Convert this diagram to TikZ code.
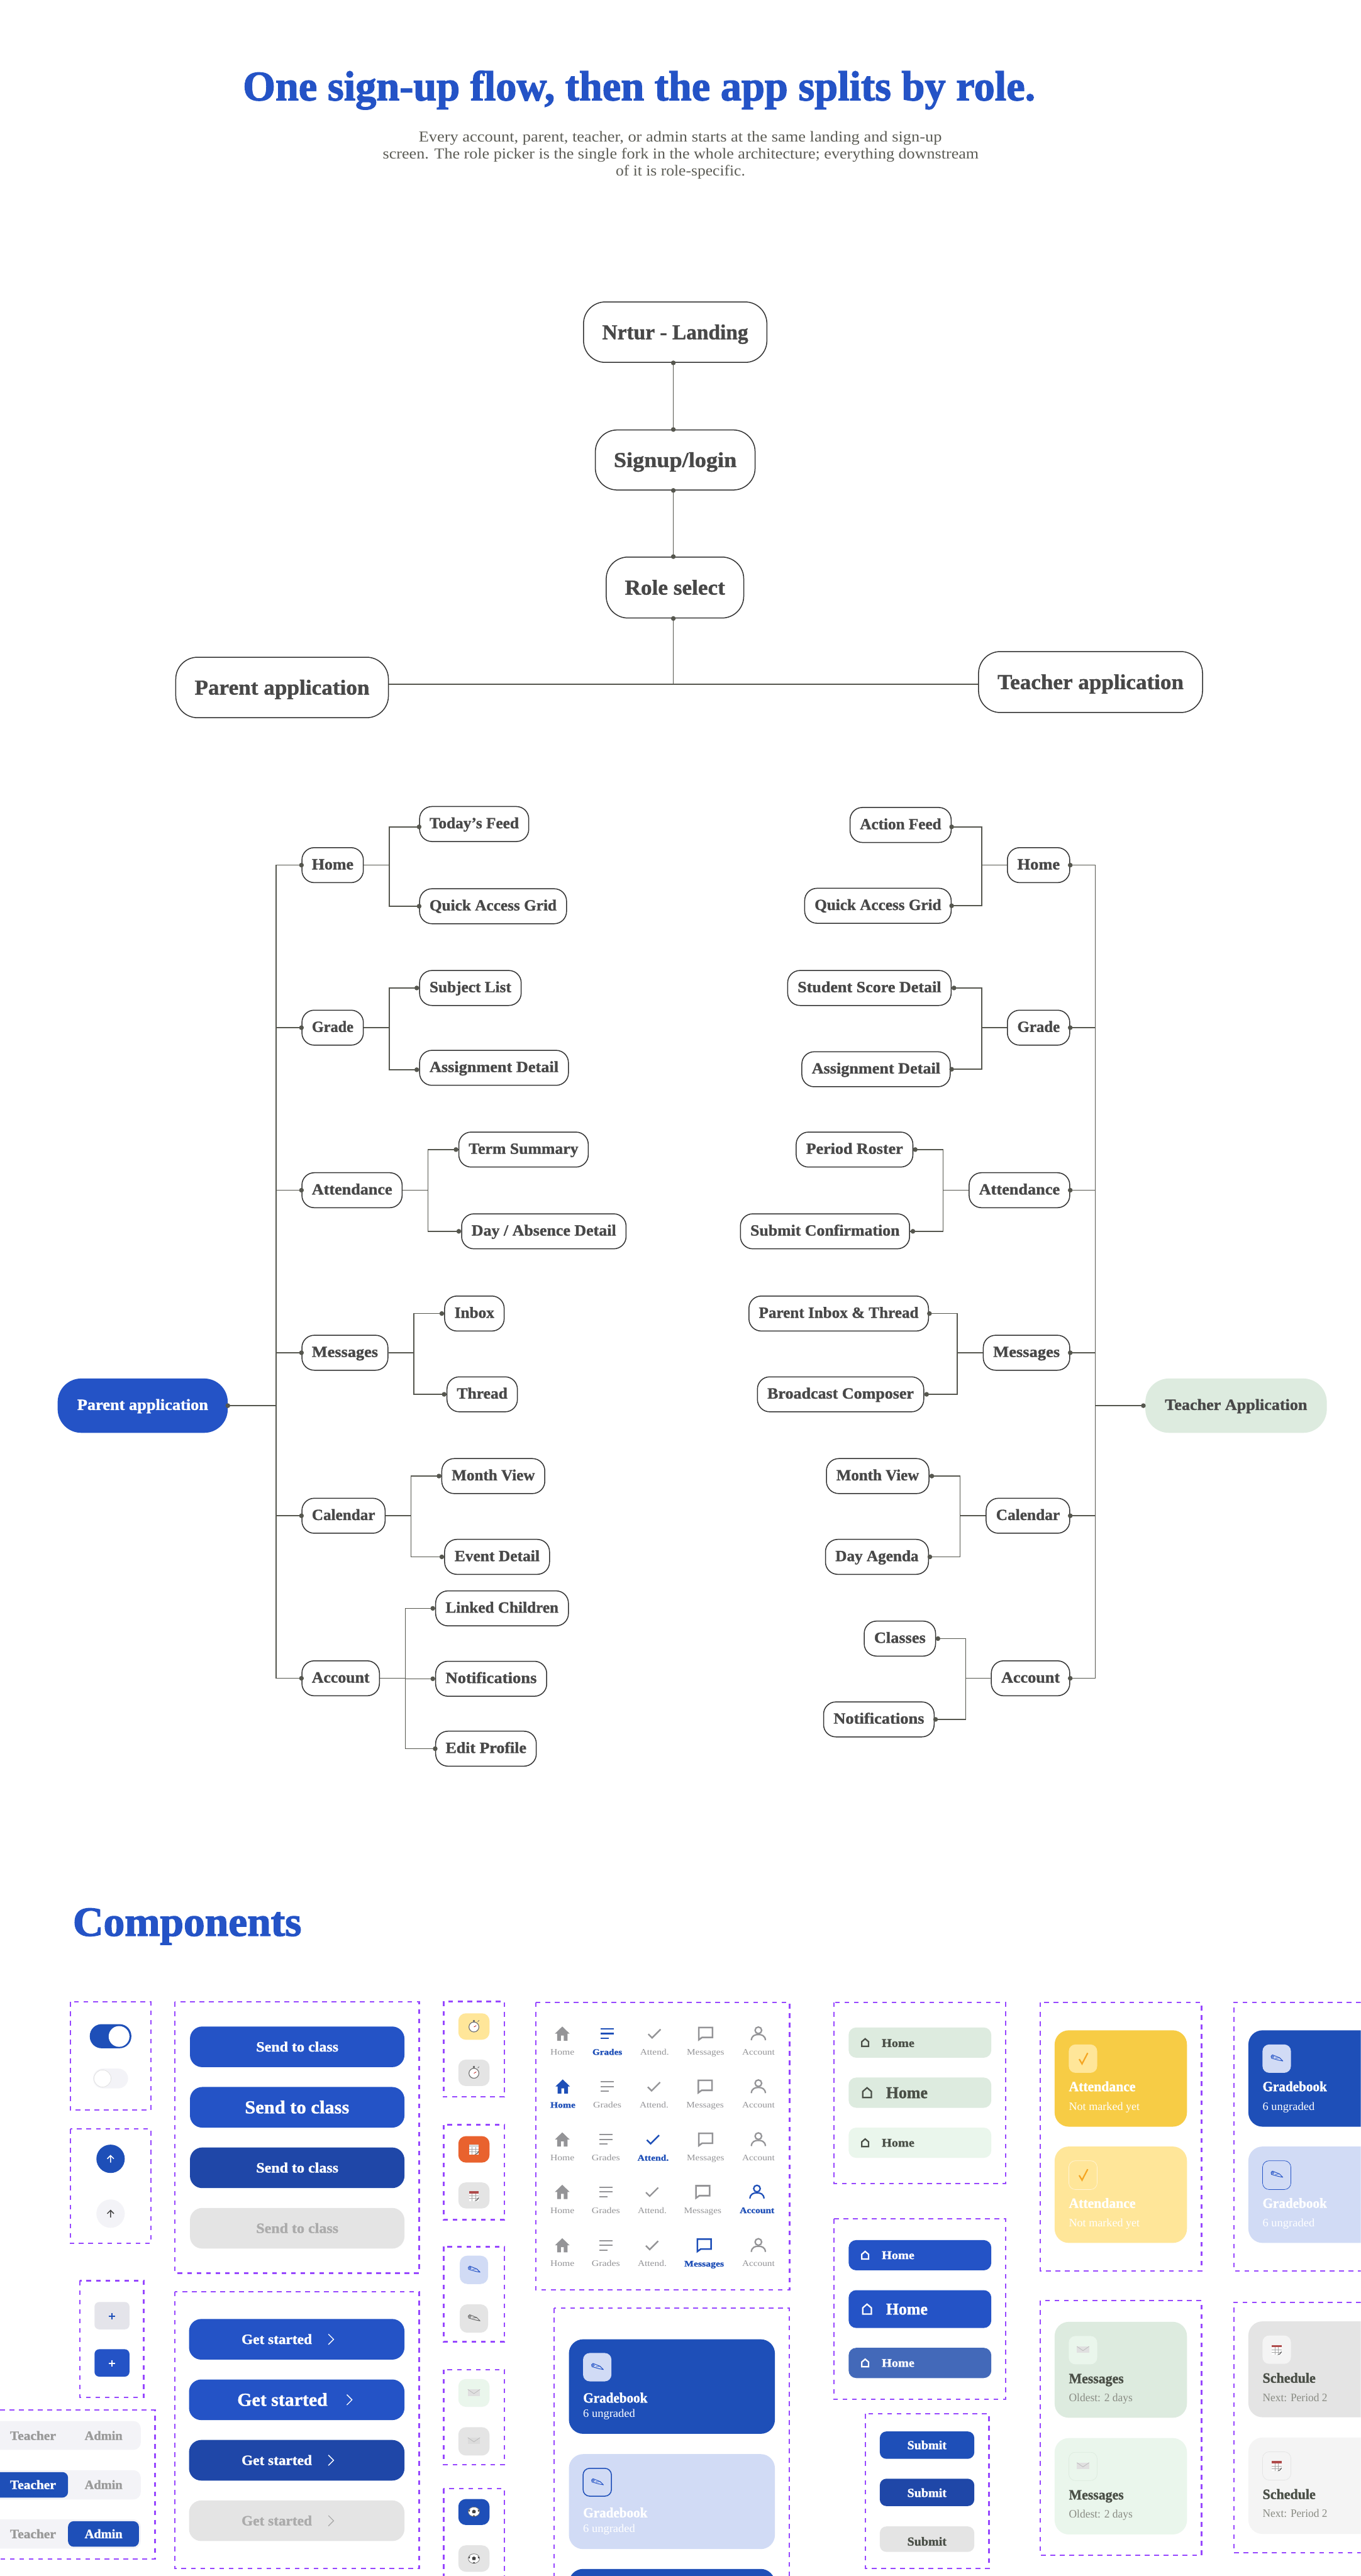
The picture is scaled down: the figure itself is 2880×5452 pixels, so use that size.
\documentclass[tikz,border=0pt]{standalone}
\usepackage{fontspec}
\usepackage{graphicx}
\setmainfont{Liberation Serif}
\newfontfamily\hv[FakeBold=1.2]{Liberation Serif Bold}
\newfontfamily\hvv[FakeBold=2]{Liberation Serif Bold}
\newfontfamily\rg{Liberation Serif}
\definecolor{blueA}{HTML}{2453C6}
\definecolor{blueB}{HTML}{1E4FB8}
\definecolor{blueC}{HTML}{1F47A8}
\definecolor{blueD}{HTML}{4369B9}
\definecolor{blueL}{HTML}{D1DBF5}
\definecolor{ink}{HTML}{484848}
\definecolor{line}{HTML}{333333}
\definecolor{sub}{HTML}{5C5C55}
\definecolor{wirec}{HTML}{55564E}
\definecolor{greenL}{HTML}{DDEBDF}
\definecolor{greenXL}{HTML}{EAF6EC}
\definecolor{dash}{HTML}{9747FF}
\definecolor{dis}{HTML}{E4E4E4}
\definecolor{distx}{HTML}{ABABAB}
\definecolor{seg}{HTML}{F3F3F7}
\definecolor{segm}{HTML}{E4E4EA}
\definecolor{navg}{HTML}{949497}
\definecolor{yelA}{HTML}{F7CC45}
\definecolor{yelL}{HTML}{FFE699}
\definecolor{orangeA}{HTML}{E9622E}
\definecolor{chk}{HTML}{F5A623}
\definecolor{olive}{HTML}{4A4F47}
\definecolor{olivesub}{HTML}{8A8C84}
\definecolor{greyL}{HTML}{F4F4F4}
\definecolor{seggrey}{HTML}{999999}
\newcounter{tc}
\tikzset{
  x=1pt,y=-1pt,
  wire/.style={draw=wirec,line width=2pt},
  dotc/.style={fill=wirec},
  flowbox/.style={draw=line,line width=2pt,fill=white,rounded corners=46pt,inner sep=0pt,text=ink,text height=34pt,text depth=4pt},
  leafbox/.style={draw=line,line width=2pt,fill=white,rounded corners=26pt,inner sep=0pt,text=ink,minimum height=74pt,text height=22pt,text depth=4pt},
  pill/.style={rounded corners=50pt,inner sep=0pt,minimum height=115pt,text height=22pt,text depth=4pt},
  dbox/.style={draw=dash,line width=3pt,dash pattern=on 10pt off 10pt},
  plain/.style={inner sep=0pt}
}
% text: left x, centre y, width, size, colour, font, text
\newcommand{\T}[7]{\pgfmathsetmacro{\ty}{#2+0.33*#4}\stepcounter{tc}\node[plain,anchor=base west,text=#5,font={#6\fontsize{#4pt}{#4pt}\selectfont}] (t\thetc) at (#1,\ty) {\resizebox{#3 pt}{\height}{#7}};}
% big flow box: name x1 y1 x2 y2 textwidth text
\newcommand{\FB}[7]{\pgfmathsetmacro{\cx}{(#2+#4)/2}\pgfmathsetmacro{\cy}{(#3+#5)/2}\pgfmathsetmacro{\bw}{#4-#2}\pgfmathsetmacro{\bh}{#5-#3}%
\node[flowbox,minimum width=\bw pt,minimum height=\bh pt,font={\hv\fontsize{45pt}{45pt}\selectfont}] (#1) at (\cx,\cy) {\resizebox{#6 pt}{\height}{#7}};}
% leaf: name x1 x2 yc text
\newcommand{\LF}[5]{\pgfmathsetmacro{\cx}{(#2+#3)/2}\pgfmathsetmacro{\bw}{#3-#2}\pgfmathsetmacro{\tw}{#3-#2-42}%
\node[leafbox,minimum width=\bw pt,font={\hv\fontsize{33pt}{33pt}\selectfont}] (#1) at (\cx,#4) {\resizebox{\tw pt}{\height}{#5}};}
\newcommand{\wdot}[1]{\fill[dotc] (#1) circle (5pt);}
\newcommand{\Rr}[6]{\fill[#1,rounded corners=#6pt] (#2,#3) rectangle (#4,#5);}
\newcommand{\DB}[4]{\draw[dbox] (#1,#2) rectangle (#3,#4);}
% icons
\newcommand{\IcWatch}[3]{\begin{scope}[shift={(#1,#2)}]\fill[#3] (-2,-15) rectangle (2,-10);\draw[#3,line width=1.2pt] (8,-11) -- (11,-14);\filldraw[draw=#3,fill=white,line width=1.6pt] (0,0) circle (10.5pt);\draw[red!70!black,line width=1pt] (0,0) -- (5,-3);\end{scope}}
\newcommand{\IcCal}[3]{\begin{scope}[shift={(#1,#2)}]\fill[white] (-10,-10) rectangle (10,11);\fill[#3] (-10,-10) rectangle (10,-5);\draw[black!35,line width=.6pt] (-10,0) -- (10,0) (-10,5) -- (10,5) (-4,-5) -- (-4,11) (3,-5) -- (3,11);\fill[black!65] (1,11) .. controls (6,9) and (9,6) .. (10,3) -- (10,6) .. controls (9,9) and (6,11) .. (1,11) -- cycle;\end{scope}}
\newcommand{\IcPen}[3]{\begin{scope}[shift={(#1,#2)}]\draw[#3,line width=1.3pt,line join=round] (-12,-5) -- (-9,-8) -- (6,-2) -- (13,5) -- (3,3) -- (-11,-1) -- cycle;\draw[#3,line width=1pt] (-8,-4) circle (2pt) (-3,-1) -- (6,-2);\end{scope}}
\newcommand{\IcMail}[3]{\begin{scope}[shift={(#1,#2)}]\fill[#3] (-13,-7) rectangle (13,7);\draw[black!30,line width=.8pt] (-13,-7) -- (0,2) -- (13,-7);\end{scope}}
\newcommand{\IcBall}[3]{\begin{scope}[shift={(#1,#2)}]\filldraw[draw=black!55,fill=white,line width=1pt] (0,0) ellipse (12pt and 10pt);\fill[#3] (-4,-2) -- (0,-4.5) -- (4,-2) -- (3,3) -- (-3,3) -- cycle;\fill[#3] (-12,-2) -- (-8,-5) -- (-9,0) -- cycle (12,-2) -- (8,-5) -- (9,0) -- cycle (-3,10) -- (0,7) -- (3,10) -- cycle;\end{scope}}
\newcommand{\IcHomeO}[4]{\begin{scope}[shift={(#1,#2)},scale=#4]\draw[#3,line width=3pt,line join=miter] (-7,8) -- (-7,-2) -- (0,-8) -- (7,-2) -- (7,8) -- cycle;\end{scope}}
\newcommand{\NHome}[3]{\begin{scope}[shift={(#1,#2)}]\fill[#3] (0,-15) -- (15.5,0) -- (11,0) -- (11,15) -- (3,15) -- (3,4) -- (-3,4) -- (-3,15) -- (-11,15) -- (-11,0) -- (-15.5,0) -- cycle;\end{scope}}
\newcommand{\NLines}[3]{\begin{scope}[shift={(#1,#2)}]\draw[#3,line width=3pt] (-14,-10) -- (14,-10) (-14,0) -- (14,0) (-14,10) -- (4,10);\end{scope}}
\newcommand{\NCheck}[3]{\begin{scope}[shift={(#1,#2)}]\draw[#3,line width=3.2pt] (-13,1) -- (-5,9) -- (13,-9);\end{scope}}
\newcommand{\NBub}[3]{\begin{scope}[shift={(#1,#2)}]\draw[#3,line width=3.4pt,line join=miter] (-14,13) -- (-14,-13) -- (15,-13) -- (15,8) -- (-7,8) -- cycle;\end{scope}}
\newcommand{\NPer}[3]{\begin{scope}[shift={(#1,#2)}]\draw[#3,line width=3pt] (0,-7) circle (7pt);\draw[#3,line width=3pt] (-15,14) .. controls (-14,4) and (-7,2) .. (0,2) .. controls (7,2) and (14,4) .. (15,14);\end{scope}}
% #1 active #2 icon #3 x #4 y #5 label #6 w regular #7 w bold
\newcommand{\NC}[7]{\ifnum#1=1 \def\cc{blueB}\def\ff{\hv}\def\ww{#7}\else\def\cc{navg}\def\ff{\rg}\def\ww{#6}\fi
#2{#3}{#4}{\cc}\pgfmathsetmacro{\lx}{#3-\ww/2}\T{\lx}{#4+39}{\ww}{18}{\cc}{\ff}{#5}}
% row: y hx gx ax mx px active
\newcommand{\NR}[7]{%
\NC{\ifnum#7=1 1\else 0\fi}{\NHome}{#2}{#1}{Home}{51}{53}%
\NC{\ifnum#7=2 1\else 0\fi}{\NLines}{#3}{#1}{Grades}{60}{63}%
\NC{\ifnum#7=3 1\else 0\fi}{\NCheck}{#4}{#1}{Attend.}{61}{66}%
\NC{\ifnum#7=4 1\else 0\fi}{\NBub}{#5}{#1}{Messages}{79}{84}%
\NC{\ifnum#7=5 1\else 0\fi}{\NPer}{#6}{#1}{Account}{69}{73}}
\begin{document}
\begin{tikzpicture}
\useasboundingbox (0,0) rectangle (2880,5452);
\clip (0,0) rectangle (2880,5452);
\fill[white] (0,0) rectangle (2880,5452);
% heading
\T{514}{183}{1677}{89}{blueA}{\hvv}{One sign-up flow, then the app splits by role.}
\T{886}{290}{1107}{32}{sub}{\rg}{Every account, parent, teacher, or admin starts at the same landing and sign-up}
\T{810}{326}{1261}{32}{sub}{\rg}{screen. The role picker is the single fork in the whole architecture; everything downstream}
\T{1303}{362}{274}{32}{sub}{\rg}{of it is role-specific.}
% top flow
\FB{landing}{1235}{639}{1623}{767}{309}{Nrtur - Landing}
\FB{signup}{1260}{910}{1598}{1037}{260}{Signup/login}
\FB{role}{1283}{1179}{1574}{1308}{212}{Role select}
\FB{pa}{372}{1391}{822}{1519}{370}{Parent application}
\FB{ta}{2071}{1379}{2545}{1508}{394}{Teacher application}
\coordinate (fork) at (1425,1448);
\draw[wire] (landing.south -| fork) -- (signup.north -| fork);
\draw[wire] (signup.south -| fork) -- (role.north -| fork);
\draw[wire] (role.south -| fork) -- (fork);
\draw[wire] (pa.east |- fork) -- (ta.west |- fork);
\wdot{landing.south -| fork}\wdot{signup.north -| fork}\wdot{signup.south -| fork}\wdot{role.north -| fork}\wdot{role.south -| fork}
% parent tree
\node[pill,fill=blueA,text=white,minimum width=360pt,font={\hv\fontsize{33pt}{33pt}\selectfont}] (prt) at (302,2975) {\resizebox{277pt}{\height}{Parent application}};
\coordinate (trL) at (584,2975);
\draw[wire] (prt.east) -- (trL); \wdot{prt.east}
\LF{phome}{639}{769}{1831}{Home}
\LF{pgrade}{639}{769}{2175}{Grade}
\LF{patt}{639}{851}{2519}{Attendance}
\LF{pmsg}{639}{821}{2863}{Messages}
\LF{pcal}{639}{815}{3208}{Calendar}
\LF{pacc}{639}{803}{3552}{Account}
\foreach \n in {phome,pgrade,patt,pmsg,pcal,pacc}{\draw[wire] (\n.west) -| (trL); \fill[dotc] (\n.west) circle (5pt);}
\LF{pa1}{888}{1119}{1744}{Today’s Feed}
\LF{pa2}{888}{1199}{1918}{Quick Access Grid}
\LF{pb1}{888}{1103}{2091}{Subject List}
\LF{pb2}{888}{1203}{2260}{Assignment Detail}
\LF{pc1}{971}{1245}{2433}{Term Summary}
\LF{pc2}{977}{1325}{2606}{Day / Absence Detail}
\LF{pd1}{941}{1067}{2780}{Inbox}
\LF{pd2}{946}{1095}{2951}{Thread}
\LF{pe1}{935}{1153}{3124}{Month View}
\LF{pe2}{941}{1163}{3295}{Event Detail}
\LF{pf1}{922}{1203}{3404}{Linked Children}
\LF{pf2}{922}{1157}{3553}{Notifications}
\LF{pf3}{922}{1135}{3701}{Edit Profile}
\foreach \p/\bx/\ls in {phome/824/{pa1/0/6,pa2/0/0},pgrade/824/{pb1/-5/0,pb2/-5/4},patt/906/{pc1/-5/0,pc2/-5/0},pmsg/876/{pd1/-5/0,pd2/-5/0},pcal/870/{pe1/-5/0,pe2/-5/0},pacc/858/{pf1/-5/0,pf2/-5/0,pf3/0/0}}{
  \coordinate (bb) at (\bx,0 |- \p.east);
  \draw[wire] (\p.east) -- (bb);
  \foreach \l/\dx/\dy in \ls {\draw[wire] ([yshift=-\dy pt]\l.west) -| (bb); \fill[dotc] ([xshift=\dx pt,yshift=-\dy pt]\l.west) circle (5pt);}
}
% teacher tree
\node[pill,fill=greenL,text=ink,minimum width=384pt,font={\hv\fontsize{33pt}{33pt}\selectfont}] (tch) at (2616,2975) {\resizebox{301pt}{\height}{Teacher Application}};
\coordinate (trR) at (2318,2975);
\draw[wire] (tch.west) -- (trR); \fill[dotc] (tch.west) ++(-4,0) circle (5pt);
\LF{thome}{2132}{2264}{1831}{Home}
\LF{tgrade}{2132}{2264}{2175}{Grade}
\LF{tatt}{2051}{2264}{2519}{Attendance}
\LF{tmsg}{2081}{2264}{2863}{Messages}
\LF{tcal}{2087}{2264}{3208}{Calendar}
\LF{tacc}{2098}{2264}{3552}{Account}
\foreach \n in {thome,tgrade,tatt,tmsg,tcal,tacc}{\draw[wire] (\n.east) -| (trR); \fill[dotc] (\n.east) circle (5pt);}
\LF{ta1}{1799}{2013}{1746}{Action Feed}
\LF{ta2}{1703}{2013}{1917}{Quick Access Grid}
\LF{tb1}{1667}{2013}{2091}{Student Score Detail}
\LF{tb2}{1697}{2011}{2263}{Assignment Detail}
\LF{tc1}{1685}{1932}{2433}{Period Roster}
\LF{tc2}{1567}{1925}{2606}{Submit Confirmation}
\LF{td1}{1585}{1965}{2780}{Parent Inbox \& Thread}
\LF{td2}{1603}{1955}{2951}{Broadcast Composer}
\LF{te1}{1749}{1966}{3124}{Month View}
\LF{te2}{1747}{1965}{3295}{Day Agenda}
\LF{tf1}{1829}{1980}{3468}{Classes}
\LF{tf2}{1743}{1977}{3639}{Notifications}
\foreach \p/\bx/\ls in {thome/2078/{ta1/0/4,ta2/0/0},tgrade/2078/{tb1/5/0,tb2/2/0},tatt/1996/{tc1/4/0,tc2/6/0},tmsg/2026/{td1/1/0,td2/5/0},tcal/2032/{te1/5/0,te2/2/0},tacc/2044/{tf1/4/0,tf2/2/0}}{
  \coordinate (bb) at (\bx,0 |- \p.west);
  \draw[wire] (\p.west) -- (bb);
  \foreach \l/\dx/\dy in \ls {\draw[wire] ([yshift=-\dy pt]\l.east) -| (bb); \fill[dotc] ([xshift=\dx pt,yshift=-\dy pt]\l.east) circle (5pt);}
}
% components
\T{154}{4068}{484}{88}{blueA}{\hvv}{Components}
% toggles
\DB{149}{4237}{319}{4466}
\Rr{blueB}{190}{4284}{278}{4335}{25}
\fill[white] (252,4310) circle (22pt);
\Rr{seg}{197}{4378}{271}{4420}{21}
\filldraw[draw=black!12,fill=white,line width=1pt] (217,4399) circle (18pt);
% arrows
\DB{149}{4506}{319}{4748}
\fill[blueB] (234,4569) circle (30pt);
\draw[white,line width=2pt] (234,4577) -- (234,4562) (227,4569) -- (234,4562) -- (241,4569);
\fill[seg] (234,4685) circle (30pt);
\draw[ink,line width=2pt] (234,4693) -- (234,4678) (227,4685) -- (234,4678) -- (241,4685);
% plus
\DB{169}{4827}{304}{5074}
\Rr{segm}{200}{4872}{274}{4930}{10}
\draw[blueB,line width=2pt] (237,4895) -- (237,4909) (230,4902) -- (244,4902);
\Rr{blueA}{200}{4972}{274}{5030}{10}
\draw[white,line width=2pt] (237,4995) -- (237,5009) (230,5002) -- (244,5002);
% segmented
\draw[dbox] (-20,5101) -- (328,5101) -- (328,5416) -- (-20,5416);
\Rr{seg}{-30}{5124}{298}{5185}{16}
\Rr{seg}{-30}{5228}{298}{5290}{16}
\Rr{seg}{-30}{5332}{298}{5394}{16}
\Rr{blueB}{-30}{5232}{144}{5286}{12}
\Rr{blueB}{144}{5336}{294}{5390}{12}
\T{21}{5155}{97}{27}{seggrey}{\hv}{Teacher}
\T{179}{5155}{80}{27}{seggrey}{\hv}{Admin}
\T{21}{5259}{97}{27}{white}{\hv}{Teacher}
\T{179}{5259}{80}{27}{seggrey}{\hv}{Admin}
\T{21}{5363}{97}{27}{seggrey}{\hv}{Teacher}
\T{179}{5363}{80}{27}{white}{\hv}{Admin}
% send
\DB{370}{4237}{887}{4811}
\Rr{blueA}{402}{4289}{856}{4375}{26}
\Rr{blueA}{402}{4417}{856}{4503}{26}
\Rr{blueC}{402}{4545}{856}{4631}{26}
\Rr{dis}{402}{4673}{856}{4759}{26}
\T{542}{4332}{174}{30}{white}{\hv}{Send to class}
\T{518}{4460}{221}{39}{white}{\hv}{Send to class}
\T{542}{4588}{174}{30}{white}{\hv}{Send to class}
\T{542}{4716}{174}{30}{distx}{\hv}{Send to class}
% get started
\DB{370}{4850}{887}{5436}
\Rr{blueA}{400}{4908}{856}{4994}{26}
\Rr{blueA}{400}{5036}{856}{5122}{26}
\Rr{blueC}{400}{5164}{856}{5250}{26}
\Rr{dis}{400}{5292}{856}{5378}{26}
\T{511}{4951}{149}{30}{white}{\hv}{Get started}
\T{502}{5079}{191}{39}{white}{\hv}{Get started}
\T{511}{5207}{149}{30}{white}{\hv}{Get started}
\T{511}{5335}{149}{30}{distx}{\hv}{Get started}
\draw[white,line width=1.8pt] (695,4940) -- (706,4951) -- (695,4962);
\draw[white,line width=1.8pt] (734,5068) -- (745,5079) -- (734,5090);
\draw[white,line width=1.8pt] (695,5196) -- (706,5207) -- (695,5218);
\draw[distx,line width=1.8pt] (695,5324) -- (706,5335) -- (695,5346);
% icon chips
\DB{939}{4236}{1067}{4438}
\Rr{yelL}{970}{4261}{1036}{4317}{16}\IcWatch{1003}{4290}{black!55}
\Rr{dis}{970}{4359}{1036}{4415}{16}\IcWatch{1003}{4388}{black!55}
\DB{939}{4497}{1067}{4698}
\Rr{orangeA}{970}{4521}{1036}{4577}{16}\IcCal{1003}{4549}{black!15}
\Rr{dis}{970}{4619}{1036}{4674}{16}\IcCal{1003}{4647}{red!55!black!70}
\DB{939}{4755}{1067}{4956}
\Rr{blueL}{973}{4774}{1033}{4834}{16}\IcPen{1003}{4804}{blueA}
\Rr{dis}{973}{4877}{1033}{4937}{16}\IcPen{1003}{4907}{black!60}
\DB{939}{5015}{1067}{5216}
\Rr{greenXL}{970}{5035}{1036}{5094}{16}\IcMail{1003}{5064}{black!12}
\Rr{dis}{970}{5137}{1036}{5197}{16}\IcMail{1003}{5166}{black!14}
\DB{939}{5267}{1067}{5500}
\Rr{blueB}{970}{5289}{1036}{5344}{16}\IcBall{1003}{5316}{black!75}
\Rr{dis}{970}{5387}{1036}{5443}{16}\IcBall{1003}{5415}{black!75}
% tab bars
\DB{1134}{4238}{1671}{4846}
\NR{4304}{1190}{1285}{1385}{1493}{1605}{2}
\NR{4416}{1191}{1285}{1384}{1492}{1605}{1}
\NR{4528}{1190}{1282}{1382}{1493}{1605}{3}
\NR{4639}{1190}{1282}{1380}{1487}{1602}{5}
\NR{4752}{1190}{1282}{1380}{1490}{1605}{4}
% gradebook big
\DB{1173}{4885}{1670}{5500}
\Rr{blueB}{1204}{4951}{1640}{5151}{30}
\Rr{blueL}{1234}{4980}{1294}{5040}{14}\IcPen{1264}{5010}{blueA}
\T{1234}{5075}{136}{30}{white}{\hv}{Gradebook}
\T{1234}{5108}{110}{24}{white}{\rg}{6 ungraded}
\Rr{blueL}{1204}{5194}{1640}{5395}{30}
\draw[blueB,line width=2pt,rounded corners=14pt] (1234,5224) rectangle (1294,5283);\IcPen{1264}{5254}{blueA}
\T{1234}{5318}{136}{30}{white}{\hv}{Gradebook}
\T{1234}{5351}{110}{24}{white}{\rg}{6 ungraded}
\Rr{blueB}{1204}{5437}{1640}{5640}{30}
% nav items A
\DB{1765}{4238}{2128}{4621}
\Rr{greenL}{1796}{4291}{2098}{4355}{16}
\Rr{greenL}{1796}{4397}{2098}{4461}{16}
\Rr{greenXL}{1796}{4503}{2098}{4567}{16}
\IcHomeO{1831}{4323}{olive}{1}
\IcHomeO{1835}{4429}{olive}{1.3}
\IcHomeO{1831}{4535}{olive}{1}
\T{1866}{4324}{69}{25}{olive}{\hv}{Home}
\T{1875}{4429}{88}{35}{olive}{\hv}{Home}
\T{1866}{4535}{69}{25}{olive}{\hv}{Home}
% nav items B
\DB{1765}{4696}{2128}{5078}
\Rr{blueA}{1796}{4741}{2098}{4805}{16}
\Rr{blueA}{1796}{4847}{2098}{4927}{16}
\Rr{blueD}{1796}{4969}{2098}{5033}{16}
\IcHomeO{1831}{4773}{white}{1}
\IcHomeO{1835}{4887}{white}{1.3}
\IcHomeO{1831}{5001}{white}{1}
\T{1866}{4773}{69}{25}{white}{\hv}{Home}
\T{1875}{4887}{88}{35}{white}{\hv}{Home}
\T{1866}{5001}{69}{25}{white}{\hv}{Home}
% submit
\DB{1832}{5109}{2093}{5436}
\Rr{blueB}{1862}{5146}{2062}{5204}{14}
\Rr{blueC}{1862}{5246}{2062}{5304}{14}
\Rr{dis}{1862}{5347}{2062}{5401}{14}
\T{1920}{5175}{83}{26}{white}{\hv}{Submit}
\T{1920}{5276}{83}{26}{white}{\hv}{Submit}
\T{1920}{5379}{83}{26}{olive}{\hv}{Submit}
% attendance
\DB{2202}{4238}{2543}{4806}
\Rr{yelA}{2232}{4297}{2512}{4501}{30}
\Rr{yelL}{2262}{4327}{2322}{4387}{14}
\draw[chk,line width=3pt] (2284,4358) -- (2290,4368) -- (2302,4345);
\T{2262}{4416}{141}{30}{white}{\hv}{Attendance}
\T{2262}{4458}{150}{24}{white}{\rg}{Not marked yet}
\Rr{yelL}{2232}{4543}{2512}{4747}{30}
\draw[white!60!yelL,line width=1pt,rounded corners=14pt] (2262,4573) rectangle (2322,4634);
\draw[chk,line width=3pt] (2284,4604) -- (2290,4614) -- (2302,4591);
\T{2262}{4663}{141}{30}{white}{\hv}{Attendance}
\T{2262}{4705}{150}{24}{white}{\rg}{Not marked yet}
% messages
\DB{2202}{4869}{2543}{5408}
\Rr{greenL}{2232}{4914}{2512}{5117}{30}
\Rr{greenXL}{2262}{4944}{2322}{5004}{14}\IcMail{2292}{4973}{black!12}
\T{2262}{5034}{116}{30}{olive}{\hv}{Messages}
\T{2262}{5075}{135}{24}{olivesub}{\rg}{Oldest: 2 days}
\Rr{greenXL}{2232}{5160}{2512}{5364}{30}
\draw[greenL,line width=1pt,rounded corners=14pt] (2262,5190) rectangle (2322,5250);\IcMail{2292}{5219}{black!12}
\T{2262}{5280}{116}{30}{olive}{\hv}{Messages}
\T{2262}{5321}{135}{24}{olivesub}{\rg}{Oldest: 2 days}
% gradebook right
\draw[dbox] (2900,4238) -- (2611,4238) -- (2611,4806) -- (2900,4806);
\Rr{blueB}{2642}{4297}{2950}{4501}{30}
\Rr{blueL}{2672}{4327}{2732}{4387}{14}\IcPen{2702}{4357}{blueA}
\T{2672}{4416}{136}{30}{white}{\hv}{Gradebook}
\T{2672}{4458}{110}{24}{white}{\rg}{6 ungraded}
\Rr{blueL}{2642}{4543}{2950}{4747}{30}
\draw[blueA,line width=1pt,rounded corners=14pt] (2672,4573) rectangle (2732,4634);\IcPen{2702}{4603}{blueA}
\T{2672}{4663}{136}{30}{white}{\hv}{Gradebook}
\T{2672}{4705}{110}{24}{white}{\rg}{6 ungraded}
% schedule
\draw[dbox] (2900,4873) -- (2611,4873) -- (2611,5403) -- (2900,5403);
\Rr{dis}{2642}{4913}{2950}{5116}{30}
\Rr{greyL}{2672}{4943}{2732}{5003}{14}\IcCal{2702}{4973}{red!55!black!70}
\T{2672}{5033}{112}{30}{olive}{\hv}{Schedule}
\T{2672}{5074}{137}{24}{olivesub}{\rg}{Next: Period 2}
\Rr{greyL}{2642}{5159}{2950}{5363}{30}
\draw[dis,line width=1pt,rounded corners=14pt] (2672,5189) rectangle (2732,5249);\IcCal{2702}{5219}{red!55!black!70}
\T{2672}{5279}{112}{30}{olive}{\hv}{Schedule}
\T{2672}{5320}{137}{24}{olivesub}{\rg}{Next: Period 2}
\end{tikzpicture}
\end{document}
